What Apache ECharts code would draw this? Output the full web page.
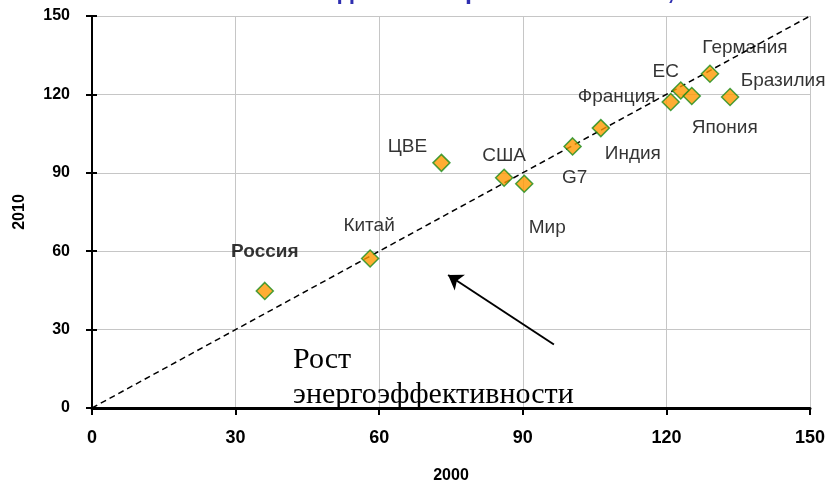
<!DOCTYPE html>
<html>
<head>
<meta charset="utf-8">
<script src="https://cdn.jsdelivr.net/npm/echarts@6/dist/echarts.min.js"></script>
<style>
  html, body { margin: 0; padding: 0; background: #fff; }
  #chart { width: 831px; height: 489px; }
</style>
</head>
<body>
<div id="chart"></div>
<script>
// Energy intensity index by country: 2000 (x) vs 2010 (y)
const countries = ['Россия', 'Китай', 'ЦВЕ', 'США', 'Мир', 'G7', 'Индия', 'Франция', 'ЕС', 'Япония', 'Германия', 'Бразилия'];
const values2000 = [36.1, 58.1, 73.0, 86.1, 90.3, 100.4, 106.3, 120.9, 123.0, 125.3, 129.1, 133.3];
const values2010 = [44.8, 57.2, 93.8, 88.1, 85.8, 100.1, 107.1, 117.1, 121.5, 119.4, 127.9, 119.0];
const axisTicks = [0, 30, 60, 90, 120, 150];

// label placement around each marker, in pixels [dx, dy]
const labelOffsets = [[0, -39], [-1, -33], [-34, -16], [0, -22], [23, 44], [2, 31], [32, 26], [-54, -5], [-15, -19], [33, 32], [35, -26], [53, -16]];

const sansFont = '"Liberation Sans", Arial, sans-serif';
const serifFont = '"Liberation Serif", "Times New Roman", serif';

const points = countries.map((name, i) => ({
  name: name,
  value: [values2000[i], values2010[i]],
  label: {
    offset: labelOffsets[i],
    fontWeight: name === 'Россия' ? 'bold' : 'normal'
  }
}));

const axisMin = axisTicks[0];
const axisMax = axisTicks[axisTicks.length - 1];
const axisStep = axisTicks[1] - axisTicks[0];

const chart = echarts.init(document.getElementById('chart'), null, { renderer: 'canvas' });

chart.setOption({
  animation: false,
  backgroundColor: '#ffffff',
  title: {
    text: 'Индексы энергоемкости ВВП, %',
    left: 300,
    top: -25,
    textStyle: { color: '#2e2eb0', fontFamily: sansFont, fontWeight: 'bold', fontSize: 25 }
  },
  grid: { left: 92, right: 21, top: 16, bottom: 78, containLabel: false },
  xAxis: {
    type: 'value',
    min: axisMin, max: axisMax, interval: axisStep,
    name: '2000',
    nameLocation: 'middle',
    nameGap: 60,
    nameTextStyle: { color: '#000', fontFamily: sansFont, fontWeight: 'bold', fontSize: 16 },
    axisLine: { show: true, onZero: false, lineStyle: { color: '#000', width: 3 } },
    axisTick: { show: true, length: 7, lineStyle: { color: '#000', width: 2 } },
    axisLabel: { color: '#000', fontFamily: sansFont, fontWeight: 'bold', fontSize: 18, margin: 21 },
    splitLine: { show: true, lineStyle: { color: '#c6c6c6', width: 1 } }
  },
  yAxis: [
    {
      type: 'value',
      min: axisMin, max: axisMax, interval: axisStep,
      name: '2010',
      nameLocation: 'middle',
      nameGap: 64,
      nameRotate: 90,
      nameTextStyle: { color: '#000', fontFamily: sansFont, fontWeight: 'bold', fontSize: 16 },
      axisLine: { show: true, onZero: false, lineStyle: { color: '#000', width: 2 } },
      axisTick: { show: true, length: 6, lineStyle: { color: '#000', width: 2 } },
      axisLabel: { color: '#000', fontFamily: sansFont, fontWeight: 'bold', fontSize: 16, margin: 22 },
      splitLine: { show: true, lineStyle: { color: '#c6c6c6', width: 1 } }
    },
    {
      // inner half of the crossing tick marks on the left axis
      type: 'value',
      position: 'left',
      min: axisMin, max: axisMax, interval: axisStep,
      axisLine: { show: false },
      axisTick: { show: true, inside: true, length: 5, lineStyle: { color: '#000', width: 2 } },
      axisLabel: { show: false },
      splitLine: { show: false }
    }
  ],
  series: [
    {
      // parity line y = x
      type: 'line',
      data: [[axisMin, axisMin], [axisMax, axisMax]],
      symbol: 'none',
      silent: true,
      z: 2,
      lineStyle: { color: '#000', width: 1.5, type: [6, 4] },
      markLine: {
        silent: true,
        symbol: ['none', 'arrow'],
        symbolSize: 14,
        label: { show: false },
        lineStyle: { color: '#000', width: 2, type: 'solid' },
        data: [[{ coord: [96.5, 24.3] }, { coord: [74.4, 50.9] }]]
      },
      markPoint: {
        silent: true,
        symbol: 'circle',
        symbolSize: 0,
        label: {
          show: true,
          position: 'inside',
          align: 'left',
          verticalAlign: 'top',
          formatter: 'Рост\nэнергоэффективности',
          color: '#000',
          fontFamily: serifFont,
          fontSize: 30,
          lineHeight: 35
        },
        data: [{ coord: [42.0, 24.9] }]
      }
    },
    {
      type: 'scatter',
      data: points,
      symbol: 'diamond',
      symbolSize: 17,
      z: 5,
      itemStyle: { color: '#ff9900', borderColor: '#1c8c1c', borderWidth: 1.5 },
      label: {
        show: true,
        position: 'inside',
        align: 'center',
        verticalAlign: 'middle',
        formatter: p => p.name,
        color: '#000',
        textBorderWidth: 0,
        fontFamily: sansFont,
        fontSize: 19
      }
    }
  ]
});
</script>
</body>
</html>
